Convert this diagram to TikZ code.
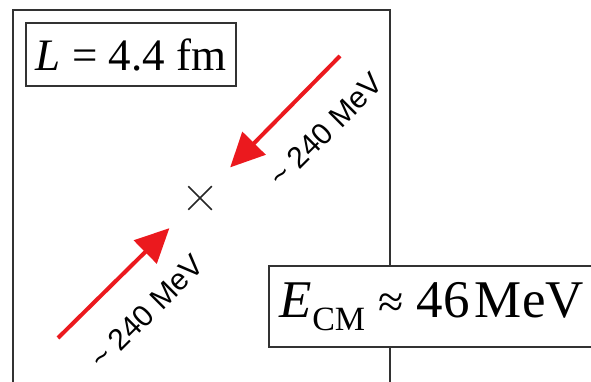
\documentclass[tikz,border=0pt]{standalone}
\usepackage{fontspec}
\setmainfont{Liberation Serif}
\newfontfamily\labelfont{Liberation Sans}
\usetikzlibrary{arrows.meta, shapes.misc}
\definecolor{beamred}{RGB}{235, 25, 30}
\definecolor{framegray}{RGB}{50, 50, 50}

\begin{document}
\begin{tikzpicture}[x=1pt, y=-1pt,
    box/.style={draw=framegray, line width=1.8pt, fill=white, inner sep=0pt},
    beam/.style={beamred, line width=4pt, -{Triangle[length=34pt, width=32pt]}, shorten >=43pt},
    energy/.style={font=\labelfont\fontsize{30}{30}\selectfont, rotate=45, inner sep=0pt}]
  \useasboundingbox (0,0) rectangle (591,382);
  % lattice box
  \draw[framegray, line width=1.8pt] (13,395) -- (13,10) -- (390,10) -- (390,395);
  % box size
  \node[box, minimum width=210pt, minimum height=63pt, font=\fontsize{45}{45}\selectfont] (size) at (131,54.5) {\textit{L} = 4.4 fm};
  % collision point
  \node[cross out, draw=black!85, line width=1.5pt, minimum size=22pt, inner sep=0pt] (vertex) at (200,198) {};
  % incoming beams
  \coordinate (upper) at (340,56);
  \coordinate (lower) at (58,338);
  \draw[beam] (upper) -- (vertex.center);
  \draw[beam] (lower) -- (vertex.center);
  \node[energy] (upperlabel) at (326,130) {\textasciitilde{} 240 MeV};
  \node[energy] (lowerlabel) at (147,312) {\textasciitilde{} 240 MeV};
  % centre-of-mass energy
  \node[box, anchor=west, minimum height=81pt, inner xsep=11pt, font=\fontsize{53}{53}\selectfont] (ecm) at (268,306.5) {\textit{E}\raisebox{-13pt}{\fontsize{34}{34}\selectfont CM} {\fontsize{46}{46}\selectfont ≈} 46\kern5pt MeV};
\end{tikzpicture}
\end{document}
